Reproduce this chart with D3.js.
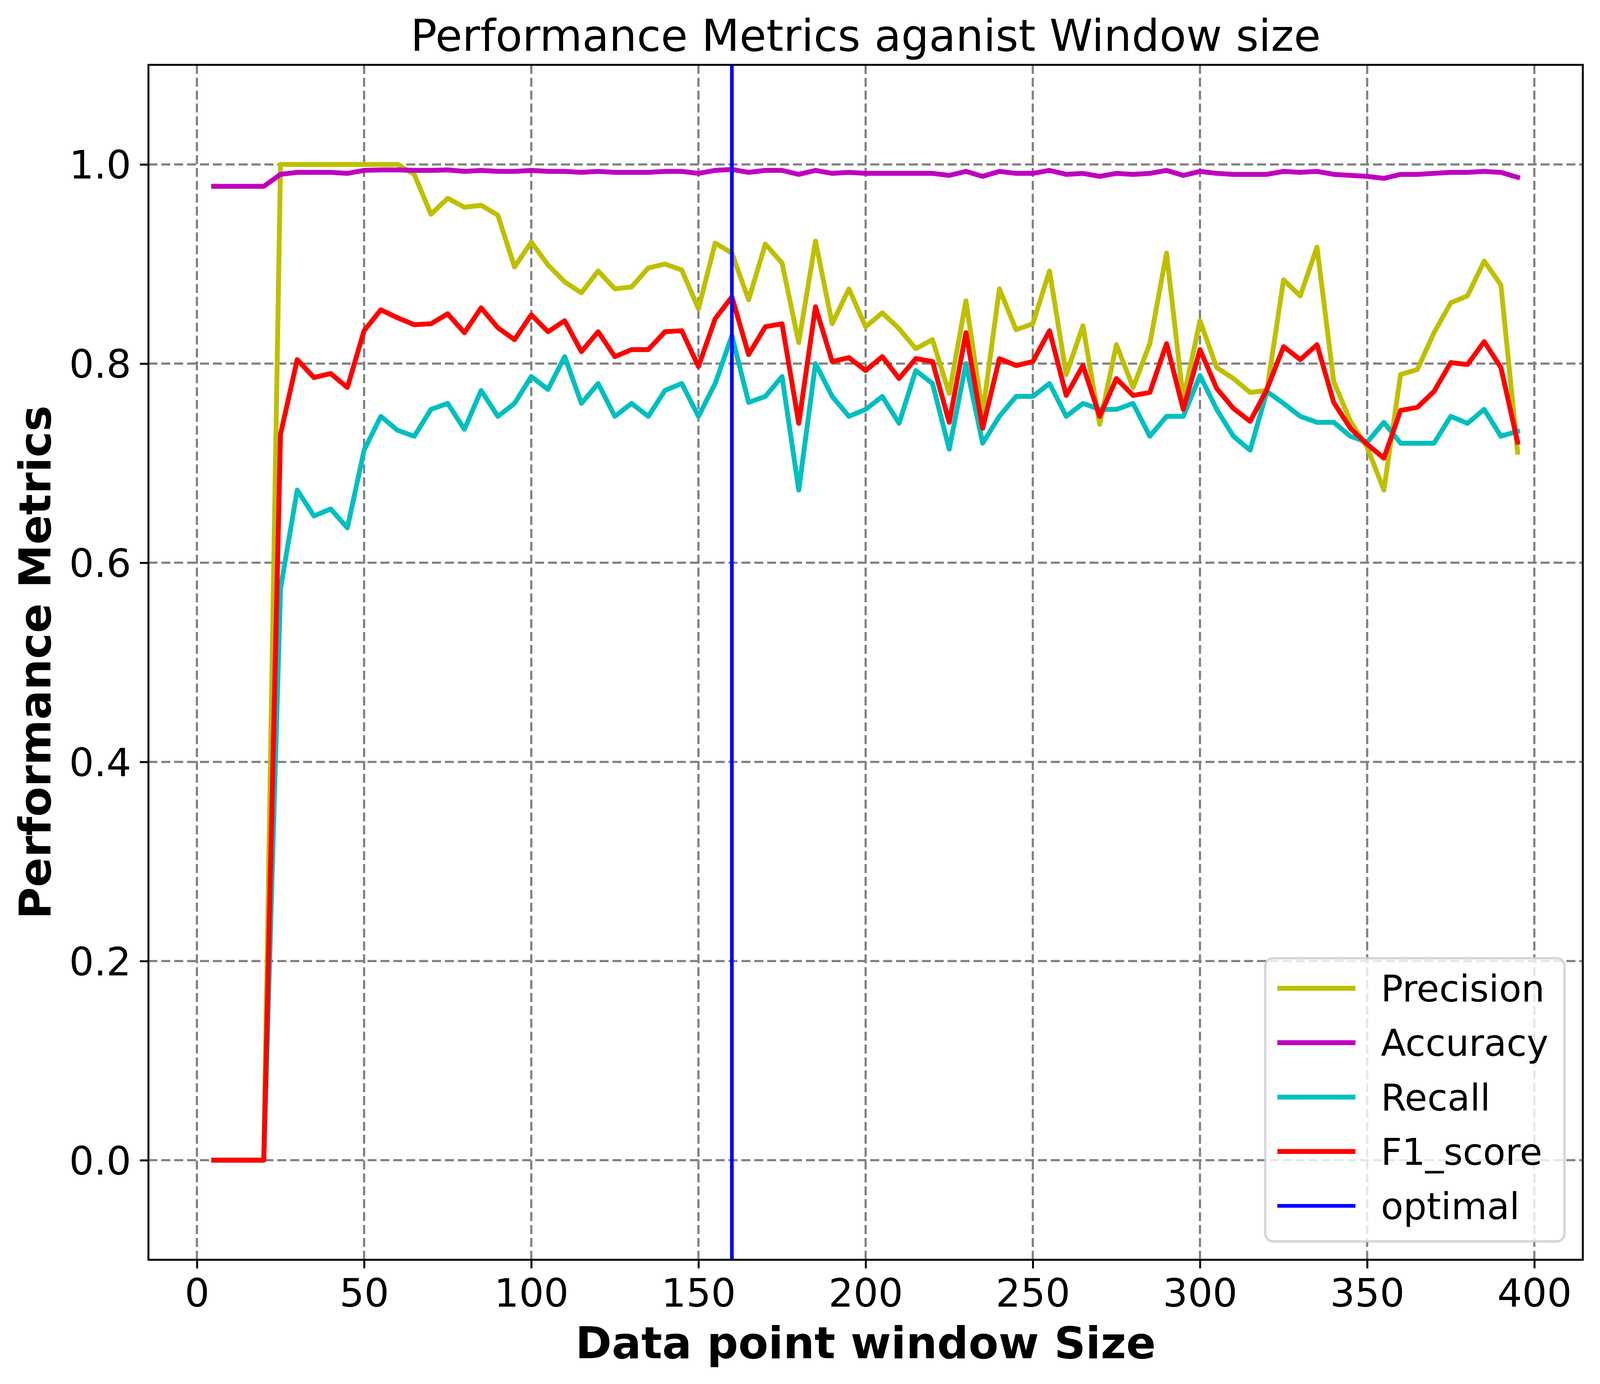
<!DOCTYPE html>
<html>
<head>
<meta charset="utf-8">
<script src="https://cdn.jsdelivr.net/npm/d3@7"></script>
<style>
  html, body { margin: 0; padding: 0; width: 100%; height: 100%; overflow: hidden; background: #fff; }
  #chart { width: 100%; height: 100%; }
  svg { display: block; }
  text { font-family: "DejaVu Sans", sans-serif; fill: #000; }
</style>
</head>
<body>
<div id="chart"></div>
<script>
// ---------- data ----------
const windowSize = d3.range(5, 400, 5); // 5 .. 395 (categories on the x axis)

const precision = [0, 0, 0, 0, 1.0, 1.0, 1.0, 1.0, 1.0, 1.0, 1.0, 1.0, 0.990, 0.950, 0.966, 0.957,
  0.959, 0.949, 0.897, 0.922, 0.899, 0.882, 0.871, 0.893, 0.875, 0.877, 0.896, 0.900, 0.894, 0.855,
  0.921, 0.911, 0.864, 0.920, 0.901, 0.821, 0.923, 0.840, 0.875, 0.837, 0.851, 0.835, 0.815, 0.824,
  0.770, 0.863, 0.750, 0.875, 0.834, 0.840, 0.893, 0.789, 0.838, 0.739, 0.819, 0.776, 0.820, 0.911,
  0.764, 0.843, 0.796, 0.785, 0.771, 0.773, 0.884, 0.868, 0.917, 0.782, 0.742, 0.716, 0.673, 0.789,
  0.794, 0.831, 0.861, 0.868, 0.903, 0.879, 0.711];

const accuracy = [0.978, 0.978, 0.978, 0.978, 0.990, 0.992, 0.992, 0.992, 0.991, 0.994, 0.9945, 0.9945,
  0.994, 0.994, 0.9945, 0.993, 0.994, 0.993, 0.993, 0.994, 0.993, 0.993, 0.992, 0.993, 0.992, 0.992,
  0.992, 0.993, 0.993, 0.991, 0.994, 0.995, 0.992, 0.994, 0.994, 0.990, 0.994, 0.991, 0.992, 0.991,
  0.991, 0.991, 0.991, 0.991, 0.989, 0.993, 0.988, 0.993, 0.991, 0.991, 0.994, 0.990, 0.991, 0.988,
  0.991, 0.990, 0.991, 0.994, 0.989, 0.993, 0.991, 0.990, 0.990, 0.990, 0.993, 0.992, 0.993, 0.990,
  0.989, 0.988, 0.986, 0.990, 0.990, 0.991, 0.992, 0.992, 0.993, 0.992, 0.987];

const recall = [0, 0, 0, 0, 0.574, 0.673, 0.647, 0.654, 0.635, 0.713, 0.747, 0.733, 0.727, 0.754, 0.760,
  0.734, 0.773, 0.747, 0.760, 0.787, 0.774, 0.807, 0.760, 0.780, 0.747, 0.760, 0.747, 0.773, 0.780,
  0.747, 0.780, 0.828, 0.761, 0.767, 0.787, 0.673, 0.800, 0.767, 0.747, 0.754, 0.767, 0.740, 0.793,
  0.780, 0.714, 0.800, 0.720, 0.747, 0.767, 0.767, 0.780, 0.747, 0.760, 0.754, 0.754, 0.760, 0.727,
  0.747, 0.747, 0.788, 0.754, 0.727, 0.713, 0.772, 0.760, 0.747, 0.741, 0.741, 0.727, 0.721, 0.741,
  0.720, 0.720, 0.720, 0.747, 0.740, 0.754, 0.727, 0.732];

const f1Score = [0, 0, 0, 0, 0.729, 0.804, 0.786, 0.790, 0.776, 0.833, 0.854, 0.846, 0.839, 0.840, 0.850,
  0.831, 0.856, 0.836, 0.824, 0.849, 0.832, 0.843, 0.812, 0.832, 0.807, 0.814, 0.814, 0.832, 0.833,
  0.797, 0.845, 0.867, 0.809, 0.837, 0.840, 0.740, 0.857, 0.802, 0.806, 0.793, 0.807, 0.785, 0.805,
  0.802, 0.741, 0.831, 0.735, 0.805, 0.798, 0.802, 0.833, 0.768, 0.798, 0.747, 0.785, 0.768, 0.771,
  0.820, 0.754, 0.814, 0.775, 0.755, 0.742, 0.774, 0.817, 0.804, 0.819, 0.761, 0.735, 0.719, 0.705,
  0.753, 0.756, 0.772, 0.801, 0.799, 0.822, 0.796, 0.721];

const optimalWindow = 160;

const seriesNames = ["Precision", "Accuracy", "Recall", "F1_score"];
const seriesValues = [precision, accuracy, recall, f1Score];
const seriesColors = ["#bfbf00", "#bf00bf", "#00bfbf", "#ff0000"];

const xTicks = [0, 50, 100, 150, 200, 250, 300, 350, 400];
const yTicks = [0.0, 0.2, 0.4, 0.6, 0.8, 1.0];

// ---------- init ----------
// layout measured on a 5657 x 3543 figure, scaled to whatever window we get
const width = window.innerWidth || 5657;
const height = window.innerHeight || 3543;
const fy = height / 3543;
const fx = width / 5657;
const s = Math.min(fy, fx * 1.5); // size unit for fonts, strokes and fixed gaps

const margin = { top: 166 * fy, right: 44 * s, bottom: 318 * fy, left: 380 * s };

const svg = d3.select("#chart").append("svg")
  .attr("width", width)
  .attr("height", height);

svg.append("rect").attr("width", width).attr("height", height).attr("fill", "#fff");

// scales (matplotlib-style 5% margins on x)
const xScale = d3.scaleLinear()
  .domain([-14.5, 414.5])
  .range([margin.left, width - margin.right]);

const yScale = d3.scaleLinear()
  .domain([-0.1, 1.1])
  .range([height - margin.bottom, margin.top]);

const plotL = xScale.range()[0], plotR = xScale.range()[1];
const plotT = yScale.range()[1], plotB = yScale.range()[0];

// grid
const grid = svg.append("g").attr("class", "grid")
  .attr("stroke", "#808080")
  .attr("stroke-width", 5.5 * s)
  .attr("stroke-dasharray", `${23 * s},${10 * s}`);

grid.selectAll(".gx").data(xTicks).enter().append("line")
  .attr("x1", d => xScale(d)).attr("x2", d => xScale(d))
  .attr("y1", plotB).attr("y2", plotT);

grid.selectAll(".gy").data(yTicks).enter().append("line")
  .attr("x1", plotL).attr("x2", plotR)
  .attr("y1", d => yScale(d)).attr("y2", d => yScale(d));

// lines
const line = d3.line()
  .x((d, i) => xScale(windowSize[i]))
  .y(d => yScale(d));

svg.append("g").selectAll("path")
  .data(seriesValues)
  .enter()
  .append("path")
  .attr("d", d => line(d))
  .attr("fill", "none")
  .attr("stroke", (d, i) => seriesColors[i])
  .attr("stroke-width", 12.5 * s)
  .attr("stroke-linejoin", "round")
  .attr("stroke-linecap", "square");

// optimal window line
svg.append("line")
  .attr("x1", xScale(optimalWindow)).attr("x2", xScale(optimalWindow))
  .attr("y1", plotT).attr("y2", plotB)
  .attr("stroke", "#0000ff")
  .attr("stroke-width", 9.4 * s);

// axes
const xAxis = d3.axisBottom(xScale)
  .tickValues(xTicks)
  .tickFormat(d3.format("d"))
  .tickSize(22 * s)
  .tickPadding(22 * s);

const yAxis = d3.axisLeft(yScale)
  .tickValues(yTicks)
  .tickFormat(d3.format(".1f"))
  .tickSize(22 * s)
  .tickPadding(22 * s);

const gx = svg.append("g")
  .attr("transform", `translate(0,${plotB})`)
  .call(xAxis);
gx.select(".domain").remove();
gx.selectAll(".tick line").attr("stroke", "#000").attr("stroke-width", 5 * s);
gx.selectAll(".tick text")
  .attr("font-size", 100 * s)
  .attr("font-family", "DejaVu Sans")
  .attr("y", 120 * s)
  .attr("dy", 0);

const gy = svg.append("g")
  .attr("transform", `translate(${plotL},0)`)
  .call(yAxis);
gy.select(".domain").remove();
gy.selectAll(".tick line").attr("stroke", "#000").attr("stroke-width", 5 * s);
gy.selectAll(".tick text")
  .attr("font-size", 100 * s)
  .attr("font-family", "DejaVu Sans")
  .attr("dy", "0.36em");

// spines
svg.append("rect")
  .attr("x", plotL).attr("y", plotT)
  .attr("width", plotR - plotL).attr("height", plotB - plotT)
  .attr("fill", "none")
  .attr("stroke", "#000")
  .attr("stroke-width", 5 * s);

// titles
const midX = (plotL + plotR) / 2;
svg.append("text")
  .attr("x", midX).attr("y", plotT - 36 * s)
  .attr("text-anchor", "middle")
  .attr("font-size", 112 * s)
  .text("Performance Metrics aganist Window size");

svg.append("text")
  .attr("x", midX).attr("y", plotB + 252 * s)
  .attr("text-anchor", "middle")
  .attr("font-size", 112 * s)
  .attr("font-weight", "bold")
  .text("Data point window Size");

svg.append("text")
  .attr("transform", `translate(${plotL - 251 * s},${(plotT + plotB) / 2}) rotate(-90)`)
  .attr("text-anchor", "middle")
  .attr("font-size", 112 * s)
  .attr("font-weight", "bold")
  .text("Performance Metrics");

// legend (lower right, matplotlib-like frame)
const legendNames = seriesNames.concat(["optimal"]);
const legendColors = seriesColors.concat(["#0000ff"]);
const legendWidths = [12.5, 12.5, 12.5, 12.5, 9.4];

const lgW = 766 * s, lgH = 725 * s;
const lgX = plotR - 47 * s - lgW;
const lgY = plotB - 47 * s - lgH;

const legend = svg.append("g").attr("class", "legend")
  .attr("transform", `translate(${lgX},${lgY})`);
legend.append("rect")
  .attr("width", lgW).attr("height", lgH)
  .attr("rx", 20 * s).attr("ry", 20 * s)
  .attr("fill", "#fff").attr("fill-opacity", 0.8)
  .attr("stroke", "#cccccc").attr("stroke-opacity", 0.8)
  .attr("stroke-width", 6 * s);

const rowY = d3.scaleLinear().domain([0, 4]).range([77 * s, 634 * s]);

legend.selectAll(".lg-line").data(legendNames).enter().append("line")
  .attr("x1", 31 * s).attr("x2", 231 * s)
  .attr("y1", (d, i) => rowY(i)).attr("y2", (d, i) => rowY(i))
  .attr("stroke", (d, i) => legendColors[i])
  .attr("stroke-width", (d, i) => legendWidths[i] * s);

legend.selectAll(".lg-text").data(legendNames).enter().append("text")
  .attr("x", 296 * s)
  .attr("y", (d, i) => rowY(i) + 34 * s)
  .attr("font-size", 94 * s)
  .text(d => d);
</script>
</body>
</html>
